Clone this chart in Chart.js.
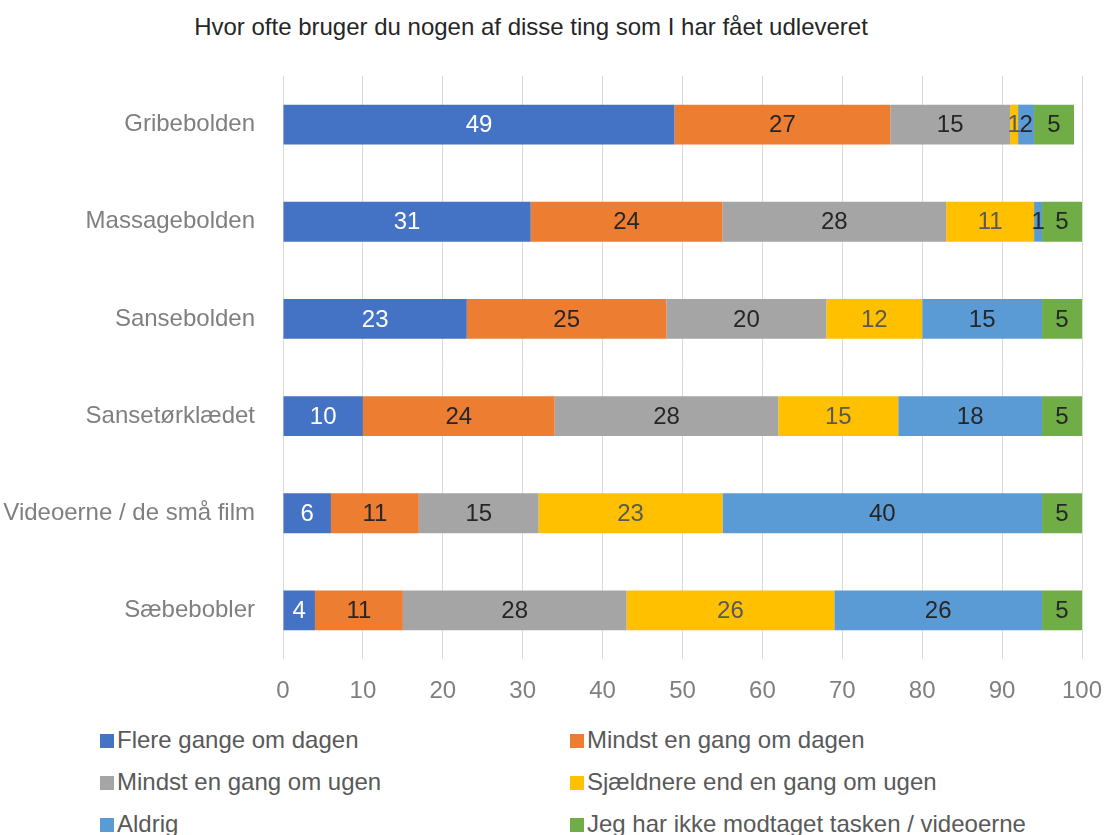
<!DOCTYPE html>
<html>
<head>
<meta charset="utf-8">
<script src="https://cdn.jsdelivr.net/npm/chart.js@4/dist/chart.umd.min.js"></script>
<style>
  body { margin: 0; background: #fff; font-family: "Liberation Sans", Arial, sans-serif; }
  #wrap { position: relative; width: 1104px; height: 835px; overflow: hidden; }
  #title { position: absolute; top: 13px; left: 0; width: 1062px; text-align: center; font-size: 24px; color: #262626; }
  #chartBox { position: absolute; top: 0; left: 0; width: 1104px; height: 720px; }
  .leg { position: absolute; font-size: 24px; color: #595959; line-height: 28px; white-space: nowrap; }
  .leg span { display: inline-block; width: 14px; height: 14px; margin-right: 3px; vertical-align: 0px; }
</style>
</head>
<body>
<div id="wrap">
  <div id="title">Hvor ofte bruger du nogen af disse ting som I har fået udleveret</div>
  <div id="chartBox"><canvas id="barChart" width="1104" height="720"></canvas></div>
  <div id="legend"></div>
</div>
<script>
// Categories and series
const categories = ['Gribebolden', 'Massagebolden', 'Sansebolden', 'Sansetørklædet', 'Videoerne / de små film', 'Sæbebobler'];
const seriesNames = ['Flere gange om dagen', 'Mindst en gang om dagen', 'Mindst en gang om ugen', 'Sjældnere end en gang om ugen', 'Aldrig', 'Jeg har ikke modtaget tasken / videoerne'];
const flereGange = [49, 31, 23, 10, 6, 4];
const mindstDagen = [27, 24, 25, 24, 11, 11];
const mindstUgen = [15, 28, 20, 28, 15, 28];
const sjaeldnere = [1, 11, 12, 15, 23, 26];
const aldrig = [2, 1, 15, 18, 40, 26];
const ikkeModtaget = [5, 5, 5, 5, 5, 5];
const xTicks = [0, 10, 20, 30, 40, 50, 60, 70, 80, 90, 100];

const colors = ['#4472C4', '#ED7D31', '#A5A5A5', '#FFC000', '#5B9BD5', '#70AD47'];
const labelColors = ['#ffffff', '#262626', '#262626', '#595959', '#262626', '#262626'];
const values = [flereGange, mindstDagen, mindstUgen, sjaeldnere, aldrig, ikkeModtaget];

// simple data labels (no datalabels plugin available)
const barLabels = {
    id: 'barLabels',
    afterDatasetsDraw(chart) {
        const ctx = chart.ctx;
        ctx.save();
        ctx.font = '24px "Liberation Sans", Arial, sans-serif';
        ctx.textAlign = 'center';
        ctx.textBaseline = 'middle';
        chart.data.datasets.forEach((ds, i) => {
            const meta = chart.getDatasetMeta(i);
            meta.data.forEach((bar, j) => {
                const v = ds.data[j];
                if (!v) return;
                const p = bar.getProps(['x', 'y', 'base'], true);
                ctx.fillStyle = labelColors[i];
                ctx.fillText(String(v), (p.x + p.base) / 2, p.y + 1);
            });
        });
        ctx.restore();
    }
};

new Chart(document.getElementById('barChart'), {
    type: 'bar',
    data: {
        labels: categories,
        datasets: seriesNames.map((name, i) => ({
            label: name,
            data: values[i],
            backgroundColor: colors[i],
            borderWidth: 0,
            barPercentage: 0.41,
            categoryPercentage: 1
        }))
    },
    options: {
        indexAxis: 'y',
        responsive: false,
        animation: false,
        layout: { padding: { top: 76, right: 22, left: 0, bottom: 0 } },
        plugins: {
            legend: { display: false },
            tooltip: { enabled: false }
        },
        scales: {
            x: {
                stacked: true,
                min: 0,
                max: 100,
                afterBuildTicks: (scale) => { scale.ticks = xTicks.map(v => ({ value: v })); },
                afterFit: (scale) => {
                    scale.height = 61;
                    scale.paddingLeft = 0;
                    scale.paddingRight = 0;
                },
                grid: { color: '#d9d9d9', drawTicks: false },
                border: { display: false },
                ticks: {
                    color: '#7f7f7f',
                    padding: 18,
                    font: { family: '"Liberation Sans", Arial, sans-serif', size: 24 }
                }
            },
            y: {
                stacked: true,
                afterFit: (scale) => { scale.width = 283; },
                grid: { display: false, drawTicks: false },
                border: { display: false },
                ticks: {
                    color: '#7f7f7f',
                    padding: 28,
                    font: { family: '"Liberation Sans", Arial, sans-serif', size: 24 }
                }
            }
        }
    },
    plugins: [barLabels]
});

// HTML legend in two columns
const legend = document.getElementById('legend');
seriesNames.forEach((name, i) => {
    const item = document.createElement('div');
    item.className = 'leg';
    item.style.left = (i % 2 === 0 ? 100 : 570) + 'px';
    item.style.top = (726 + Math.floor(i / 2) * 42) + 'px';
    item.innerHTML = '<span style="background:' + colors[i] + '"></span>' + name;
    legend.appendChild(item);
});
</script>
</body>
</html>
